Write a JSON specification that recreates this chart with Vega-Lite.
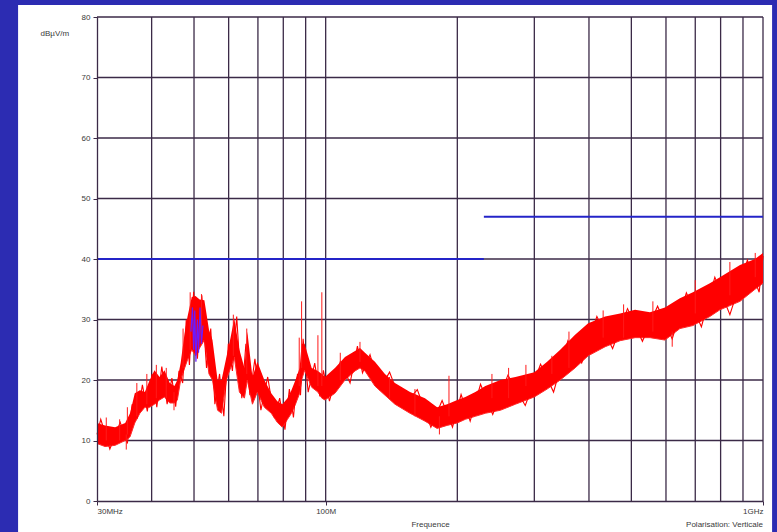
{
  "$schema": "https://vega.github.io/schema/vega-lite/v6.json",
  "autosize": {"type": "none"},
  "width": 666,
  "height": 484,
  "padding": {"left": 97, "top": 17, "right": 14, "bottom": 31},
  "background": "#2c2cb2",
  "config": {
    "view": {"stroke": null},
    "font": "Liberation Sans",
    "axis": {"labelFont": "Liberation Sans", "titleFont": "Liberation Sans", "labelColor": "#3a3a3a", "titleColor": "#3a3a3a", "labelFontSize": 8, "titleFontSize": 8, "titleFontWeight": "normal", "grid": false}
  },
  "title": {"text": "Polarisation: Verticale", "orient": "bottom", "anchor": "end", "frame": "group", "fontSize": 8, "fontWeight": "normal", "font": "Liberation Sans", "color": "#3a3a3a", "offset": -12},
  "datasets": {
    "env": [
      {"f": 30.0, "lo": 9.5, "hi": 12.9},
      {"f": 31.3, "lo": 9.0, "hi": 12.5},
      {"f": 33.0, "lo": 9.2, "hi": 12.2},
      {"f": 34.8, "lo": 10.0, "hi": 12.9},
      {"f": 35.7, "lo": 10.6, "hi": 14.5},
      {"f": 36.6, "lo": 12.9, "hi": 17.8},
      {"f": 37.6, "lo": 14.5, "hi": 18.3},
      {"f": 38.6, "lo": 15.5, "hi": 18.0},
      {"f": 39.6, "lo": 15.5, "hi": 20.0},
      {"f": 40.6, "lo": 16.0, "hi": 21.6},
      {"f": 41.7, "lo": 16.7, "hi": 20.5},
      {"f": 42.8, "lo": 17.2, "hi": 21.6},
      {"f": 44.0, "lo": 16.2, "hi": 19.5},
      {"f": 45.1, "lo": 16.2, "hi": 19.0},
      {"f": 45.8, "lo": 16.7, "hi": 20.0},
      {"f": 46.6, "lo": 20.0, "hi": 22.8},
      {"f": 47.6, "lo": 22.0, "hi": 27.8},
      {"f": 48.3, "lo": 23.3, "hi": 30.4},
      {"f": 49.4, "lo": 25.0, "hi": 33.7},
      {"f": 50.4, "lo": 24.0, "hi": 33.9},
      {"f": 51.5, "lo": 25.3, "hi": 33.3},
      {"f": 52.8, "lo": 26.6, "hi": 33.2},
      {"f": 54.1, "lo": 21.0, "hi": 28.3},
      {"f": 55.1, "lo": 20.0, "hi": 26.6},
      {"f": 56.6, "lo": 15.0, "hi": 20.0},
      {"f": 57.8, "lo": 14.5, "hi": 20.0},
      {"f": 59.3, "lo": 20.0, "hi": 23.8},
      {"f": 60.6, "lo": 22.0, "hi": 27.0},
      {"f": 61.8, "lo": 23.8, "hi": 30.2},
      {"f": 63.5, "lo": 18.0, "hi": 25.0},
      {"f": 65.2, "lo": 17.0, "hi": 22.0},
      {"f": 66.2, "lo": 20.0, "hi": 28.0},
      {"f": 68.0, "lo": 16.0, "hi": 20.5},
      {"f": 69.8, "lo": 18.0, "hi": 23.0},
      {"f": 72.4, "lo": 15.5, "hi": 20.0},
      {"f": 75.1, "lo": 14.5, "hi": 17.8},
      {"f": 77.5, "lo": 13.0, "hi": 16.5},
      {"f": 79.6, "lo": 12.2, "hi": 16.0},
      {"f": 81.8, "lo": 13.5, "hi": 17.0},
      {"f": 83.5, "lo": 14.5, "hi": 18.3},
      {"f": 85.3, "lo": 16.0, "hi": 20.0},
      {"f": 87.2, "lo": 17.8, "hi": 22.0},
      {"f": 88.1, "lo": 20.0, "hi": 26.0},
      {"f": 89.5, "lo": 21.6, "hi": 26.0},
      {"f": 92.9, "lo": 18.8, "hi": 22.0},
      {"f": 96.0, "lo": 18.0, "hi": 21.5},
      {"f": 98.0, "lo": 17.0, "hi": 21.0},
      {"f": 99.6, "lo": 16.7, "hi": 20.5},
      {"f": 105.0, "lo": 17.8, "hi": 22.0},
      {"f": 110.7, "lo": 20.0, "hi": 23.8},
      {"f": 116.7, "lo": 21.5, "hi": 24.8},
      {"f": 119.8, "lo": 22.0, "hi": 25.3},
      {"f": 123.0, "lo": 21.5, "hi": 24.5},
      {"f": 129.6, "lo": 19.0, "hi": 23.0},
      {"f": 136.6, "lo": 17.5, "hi": 21.0},
      {"f": 144.0, "lo": 16.0, "hi": 19.5},
      {"f": 155.9, "lo": 14.5, "hi": 18.0},
      {"f": 168.7, "lo": 13.2, "hi": 17.0},
      {"f": 179.8, "lo": 12.0, "hi": 15.5},
      {"f": 189.6, "lo": 12.5, "hi": 16.0},
      {"f": 200.0, "lo": 12.9, "hi": 16.7},
      {"f": 208.6, "lo": 13.5, "hi": 17.2},
      {"f": 219.9, "lo": 14.0, "hi": 18.0},
      {"f": 231.8, "lo": 14.5, "hi": 19.0},
      {"f": 250.9, "lo": 15.0, "hi": 20.0},
      {"f": 271.6, "lo": 16.0, "hi": 20.5},
      {"f": 300.0, "lo": 17.2, "hi": 21.3},
      {"f": 320.9, "lo": 18.5, "hi": 23.0},
      {"f": 343.8, "lo": 20.0, "hi": 25.0},
      {"f": 371.8, "lo": 22.0, "hi": 27.5},
      {"f": 398.3, "lo": 24.0, "hi": 29.4},
      {"f": 435.6, "lo": 25.5, "hi": 30.5},
      {"f": 471.3, "lo": 26.5, "hi": 31.0},
      {"f": 509.9, "lo": 27.0, "hi": 31.6},
      {"f": 551.6, "lo": 27.0, "hi": 31.2},
      {"f": 596.7, "lo": 26.6, "hi": 32.0},
      {"f": 645.6, "lo": 28.5, "hi": 33.5},
      {"f": 691.4, "lo": 29.0, "hi": 34.5},
      {"f": 756.0, "lo": 30.5, "hi": 36.0},
      {"f": 797.0, "lo": 31.6, "hi": 37.0},
      {"f": 886.0, "lo": 33.0, "hi": 39.0},
      {"f": 958.8, "lo": 35.0, "hi": 40.0},
      {"f": 1000.0, "lo": 36.0, "hi": 41.0}
    ],
    "zz": [
      {"f": 30.0, "v": 11.0}, {"f": 30.6, "v": 13.5}, {"f": 32.1, "v": 8.6}, {"f": 33.9, "v": 13.0},
      {"f": 35.2, "v": 9.5}, {"f": 36.1, "v": 16.0}, {"f": 37.1, "v": 13.8}, {"f": 38.1, "v": 19.2},
      {"f": 39.1, "v": 14.8}, {"f": 40.1, "v": 21.0}, {"f": 41.1, "v": 15.5}, {"f": 42.2, "v": 22.2},
      {"f": 43.4, "v": 16.0}, {"f": 44.5, "v": 20.3}, {"f": 45.4, "v": 15.6}, {"f": 46.2, "v": 21.5},
      {"f": 47.1, "v": 19.5}, {"f": 48.0, "v": 30.0}, {"f": 48.8, "v": 22.5}, {"f": 49.9, "v": 34.6},
      {"f": 50.9, "v": 23.5}, {"f": 52.1, "v": 34.0}, {"f": 53.4, "v": 22.0}, {"f": 54.6, "v": 28.5},
      {"f": 55.8, "v": 16.0}, {"f": 57.2, "v": 21.0}, {"f": 58.5, "v": 14.0}, {"f": 59.9, "v": 26.0},
      {"f": 61.2, "v": 21.5}, {"f": 62.6, "v": 30.5}, {"f": 64.3, "v": 17.0}, {"f": 65.7, "v": 26.0},
      {"f": 67.1, "v": 17.5}, {"f": 68.9, "v": 23.5}, {"f": 71.1, "v": 15.0}, {"f": 73.7, "v": 20.5},
      {"f": 76.3, "v": 13.8}, {"f": 78.5, "v": 17.0}, {"f": 80.7, "v": 11.8}, {"f": 82.6, "v": 18.5},
      {"f": 84.4, "v": 13.8}, {"f": 86.2, "v": 21.0}, {"f": 87.6, "v": 17.5}, {"f": 88.8, "v": 26.8},
      {"f": 91.2, "v": 18.0}, {"f": 94.4, "v": 22.8}, {"f": 97.0, "v": 17.3}, {"f": 98.8, "v": 21.6},
      {"f": 102.0, "v": 16.5}, {"f": 108.0, "v": 23.0}, {"f": 113.7, "v": 19.5}, {"f": 118.2, "v": 25.6},
      {"f": 121.4, "v": 21.2}, {"f": 126.3, "v": 24.2}, {"f": 133.0, "v": 18.5}, {"f": 140.0, "v": 21.3},
      {"f": 150.0, "v": 15.5}, {"f": 162.0, "v": 18.4}, {"f": 174.0, "v": 12.2}, {"f": 184.6, "v": 16.6},
      {"f": 195.0, "v": 12.2}, {"f": 204.0, "v": 17.6}, {"f": 214.0, "v": 13.2}, {"f": 226.0, "v": 19.3},
      {"f": 241.0, "v": 14.3}, {"f": 261.0, "v": 20.8}, {"f": 286.0, "v": 15.8}, {"f": 310.0, "v": 22.6},
      {"f": 332.0, "v": 18.0}, {"f": 358.0, "v": 26.5}, {"f": 385.0, "v": 22.8}, {"f": 417.0, "v": 30.5},
      {"f": 453.0, "v": 25.2}, {"f": 490.0, "v": 31.8}, {"f": 530.0, "v": 26.4}, {"f": 574.0, "v": 32.2},
      {"f": 620.0, "v": 26.8}, {"f": 668.0, "v": 34.4}, {"f": 723.0, "v": 28.8}, {"f": 776.0, "v": 37.0},
      {"f": 840.0, "v": 30.8}, {"f": 921.0, "v": 39.8}, {"f": 980.0, "v": 34.5}, {"f": 1000.0, "v": 40.5}
    ],
    "spk": [
      {"f": 31.5, "lo": 10, "hi": 13.8},
      {"f": 33.8, "lo": 10, "hi": 13.5},
      {"f": 35.0, "lo": 8.5, "hi": 11},
      {"f": 35.2, "lo": 11, "hi": 15.5},
      {"f": 37.0, "lo": 14, "hi": 19.5},
      {"f": 39.0, "lo": 16, "hi": 21},
      {"f": 41.0, "lo": 17, "hi": 22.5},
      {"f": 43.2, "lo": 17, "hi": 22},
      {"f": 45.0, "lo": 15, "hi": 18},
      {"f": 47.2, "lo": 22, "hi": 28.5},
      {"f": 49.0, "lo": 25, "hi": 34.5},
      {"f": 52.0, "lo": 27, "hi": 34.2},
      {"f": 61.5, "lo": 24, "hi": 30.8},
      {"f": 66.0, "lo": 21, "hi": 28.5},
      {"f": 87.0, "lo": 19, "hi": 27},
      {"f": 88.1, "lo": 22, "hi": 33},
      {"f": 96.0, "lo": 19, "hi": 27.4},
      {"f": 98.0, "lo": 19, "hi": 34.5},
      {"f": 108, "lo": 20, "hi": 24.5},
      {"f": 119.8, "lo": 23, "hi": 26.3},
      {"f": 140, "lo": 17, "hi": 20.5},
      {"f": 160, "lo": 14, "hi": 18.5},
      {"f": 182, "lo": 11, "hi": 14},
      {"f": 191.4, "lo": 14, "hi": 20.7},
      {"f": 240, "lo": 17, "hi": 21},
      {"f": 262, "lo": 17, "hi": 22},
      {"f": 287, "lo": 19, "hi": 22.5},
      {"f": 329, "lo": 21, "hi": 24},
      {"f": 360, "lo": 22, "hi": 28},
      {"f": 431, "lo": 27, "hi": 31.5},
      {"f": 480, "lo": 27, "hi": 32.5},
      {"f": 560, "lo": 28, "hi": 33},
      {"f": 620, "lo": 25.5, "hi": 28},
      {"f": 700, "lo": 31, "hi": 36.5},
      {"f": 840, "lo": 34, "hi": 39.5},
      {"f": 960, "lo": 37, "hi": 41}
    ],
    "qp": [
      {"f": 49.2, "v": 28}, {"f": 49.6, "v": 32}, {"f": 49.9, "v": 25}, {"f": 50.2, "v": 31.5},
      {"f": 50.5, "v": 23}, {"f": 50.9, "v": 30}, {"f": 51.2, "v": 24.5}, {"f": 51.6, "v": 32},
      {"f": 52.0, "v": 26}, {"f": 52.4, "v": 29}
    ],
    "lim": [
      {"f": 30, "v": 40, "seg": "a"}, {"f": 230, "v": 40, "seg": "a"},
      {"f": 230, "v": 47, "seg": "b"}, {"f": 1000, "v": 47, "seg": "b"}
    ],
    "vg": [
      {"f": 40}, {"f": 50}, {"f": 60}, {"f": 70}, {"f": 80}, {"f": 90}, {"f": 100},
      {"f": 200}, {"f": 300}, {"f": 400}, {"f": 500}, {"f": 600}, {"f": 700}, {"f": 800}, {"f": 900}, {"f": 1000}
    ],
    "hg": [
      {"v": 10}, {"v": 20}, {"v": 30}, {"v": 40}, {"v": 50}, {"v": 60}, {"v": 70}, {"v": 80}
    ]
  },
  "layer": [
    {
      "data": {"values": [{}]},
      "mark": {"type": "rect", "color": "white", "clip": false},
      "encoding": {
        "x": {"datum": 19.8, "type": "quantitative", "scale": {"type": "log", "domain": [30, 1000], "nice": false},
          "axis": {"zindex": 1, "values": [30, 100, 1000], "title": "Frequence", "labelExpr": "datum.value == 30 ? '30MHz' : datum.value == 100 ? '100M' : '1GHz'", "domainColor": "#3b2a47", "domainWidth": 1.3, "ticks": true, "tickSize": 4, "tickColor": "#3b2a47", "labelPadding": 2, "titlePadding": 5, "labelFlush": true}},
        "x2": {"datum": 1049},
        "y": {"datum": -5.3, "type": "quantitative", "scale": {"domain": [0, 80], "nice": false},
          "axis": {"zindex": 1, "values": [0, 10, 20, 30, 40, 50, 60, 70, 80], "title": "dBµV/m", "titleAngle": 0, "titleAlign": "left", "titleBaseline": "middle", "titleX": -57, "titleY": 16, "domainColor": "#3b2a47", "domainWidth": 1.3, "tickSize": 4, "tickColor": "#3b2a47", "labelPadding": 3}},
        "y2": {"datum": 82}
      }
    },
    {
      "data": {"name": "vg"},
      "mark": {"type": "rule", "color": "#3b2a47", "strokeWidth": 1.3},
      "encoding": {
        "x": {"field": "f", "type": "quantitative"},
        "y": {"datum": 0, "type": "quantitative"},
        "y2": {"datum": 80}
      }
    },
    {
      "data": {"name": "hg"},
      "mark": {"type": "rule", "color": "#3b2a47", "strokeWidth": 1.3},
      "encoding": {
        "y": {"field": "v", "type": "quantitative"},
        "x": {"datum": 30, "type": "quantitative"},
        "x2": {"datum": 1000}
      }
    },
    {
      "data": {"name": "env"},
      "mark": {"type": "area", "color": "#ff0000", "opacity": 1, "line": {"color": "#ff2a2a", "strokeWidth": 1}},
      "encoding": {
        "x": {"field": "f", "type": "quantitative"},
        "y": {"field": "lo", "type": "quantitative"},
        "y2": {"field": "hi"}
      }
    },
    {
      "data": {"name": "zz"},
      "mark": {"type": "line", "color": "#ff0000", "strokeWidth": 1.1},
      "encoding": {
        "x": {"field": "f", "type": "quantitative"},
        "y": {"field": "v", "type": "quantitative"}
      }
    },
    {
      "data": {"name": "spk"},
      "mark": {"type": "rule", "color": "#ff1a1a", "strokeWidth": 1},
      "encoding": {
        "x": {"field": "f", "type": "quantitative"},
        "y": {"field": "lo", "type": "quantitative"},
        "y2": {"field": "hi"}
      }
    },
    {
      "data": {"name": "qp"},
      "mark": {"type": "line", "color": "#6a1aff", "strokeWidth": 1.2},
      "encoding": {
        "x": {"field": "f", "type": "quantitative"},
        "y": {"field": "v", "type": "quantitative"}
      }
    },
    {
      "data": {"name": "lim"},
      "mark": {"type": "line", "color": "#2424c8", "strokeWidth": 2},
      "encoding": {
        "x": {"field": "f", "type": "quantitative"},
        "y": {"field": "v", "type": "quantitative"},
        "detail": {"field": "seg"}
      }
    }
  ]
}
